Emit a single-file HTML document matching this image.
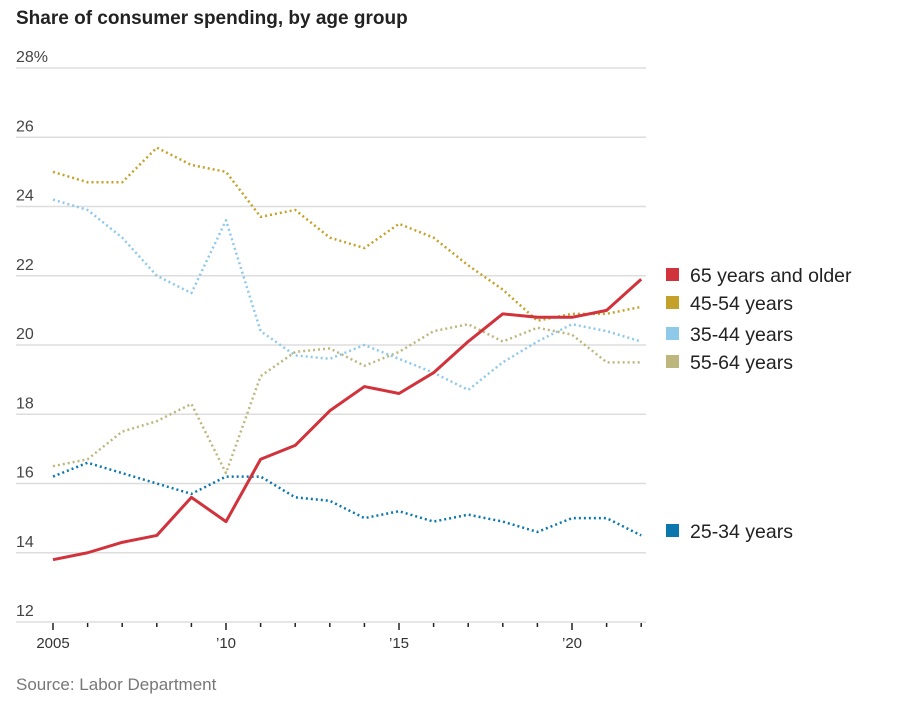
<!DOCTYPE html>
<html><head><meta charset="utf-8"><style>
body{margin:0;background:#fff;font-family:"Liberation Sans",sans-serif;}
svg text{font-family:"Liberation Sans",sans-serif;}
</style></head><body>
<svg id="c" width="904" height="704">
<text x="16" y="24" font-size="19" font-weight="bold" fill="#222">Share of consumer spending, by age group</text>
<text x="16" y="690" font-size="17" fill="#777">Source: Labor Department</text>
<g id="grid"></g><g id="lines"></g><g id="legend"></g>
</svg>
<script>
const years=[2005,2006,2007,2008,2009,2010,2011,2012,2013,2014,2015,2016,2017,2018,2019,2020,2021,2022];
const s65=[13.8,14.0,14.3,14.5,15.6,14.9,16.7,17.1,18.1,18.8,18.6,19.2,20.1,20.9,20.8,20.8,21.0,21.9];
const s4554=[25.0,24.7,24.7,25.7,25.2,25.0,23.7,23.9,23.1,22.8,23.5,23.1,22.3,21.6,20.7,20.9,20.9,21.1];
const s3544=[24.2,23.9,23.1,22.0,21.5,23.6,20.4,19.7,19.6,20.0,19.6,19.2,18.7,19.5,20.1,20.6,20.4,20.1];
const s5564=[16.5,16.7,17.5,17.8,18.3,16.3,19.1,19.8,19.9,19.4,19.8,20.4,20.6,20.1,20.5,20.3,19.5,19.5];
const s2534=[16.2,16.6,16.3,16.0,15.7,16.2,16.2,15.6,15.5,15.0,15.2,14.9,15.1,14.9,14.6,15.0,15.0,14.5];
const yTicks=[12,14,16,18,20,22,24,26,28];
const xLabels={2005:"2005",2010:"’10",2015:"’15",2020:"’20"};
const legendNames=["65 years and older","45-54 years","35-44 years","55-64 years","25-34 years"];
const NS="http://www.w3.org/2000/svg";
const X=y=>53+(y-2005)*34.6;
const Y=v=>622-(v-12)*34.625;
function mk(t,a,p){const e=document.createElementNS(NS,t);for(const k in a)e.setAttribute(k,a[k]);p.appendChild(e);return e;}
const g=document.getElementById('grid');
yTicks.forEach(v=>{
 const l=mk('line',{x1:16,x2:646,y1:Y(v),y2:Y(v),stroke:'#ddd','stroke-width':1.5},g);
 
 
 const t=mk('text',{x:16,y:Y(v)-6,'font-size':16,fill:'#444'},g);
 t.textContent=v===28?'28%':v;
 
 
});
years.forEach(y=>{
 const big=xLabels[y]!==undefined;
 const l=mk('line',{x1:X(y),x2:X(y),y1:623,y2:big?630:627,stroke:'#222','stroke-width':1.5},g);
 
 
 if(big){const t=mk('text',{x:X(y),y:648,'font-size':15,fill:'#333','text-anchor':'middle'},g);
 t.textContent=xLabels[y];
 
 }
});
const series=[[s65,'#d1323b',false],[s4554,'#c4a22a',true],[s3544,'#8ec9ea',true],[s5564,'#bdb77e',true],[s2534,'#0b77ad',true]];
const lg=document.getElementById('lines');
[3,2,1,4,0].forEach(i=>{
 const [d,c,dot]=series[i];
 const p=mk('polyline',{points:d.map((v,j)=>X(years[j])+','+Y(v)).join(' '),fill:'none',stroke:c,'stroke-width':dot?2.5:3,'stroke-dasharray':dot?'2 3':'none','stroke-linejoin':'round'},lg);
 
 
});
const lgd=document.getElementById('legend');
const ly=[275,303,334,362,531];
legendNames.forEach((n,i)=>{
 const r=mk('rect',{x:666,y:ly[i]-7,width:13,height:13,fill:series[i][1]},lgd);
 
 
 const t=mk('text',{x:690,y:ly[i]+7,'font-size':19.5,fill:'#222'},lgd);
 t.textContent=n;
 
 
});
</script>
</body></html>
